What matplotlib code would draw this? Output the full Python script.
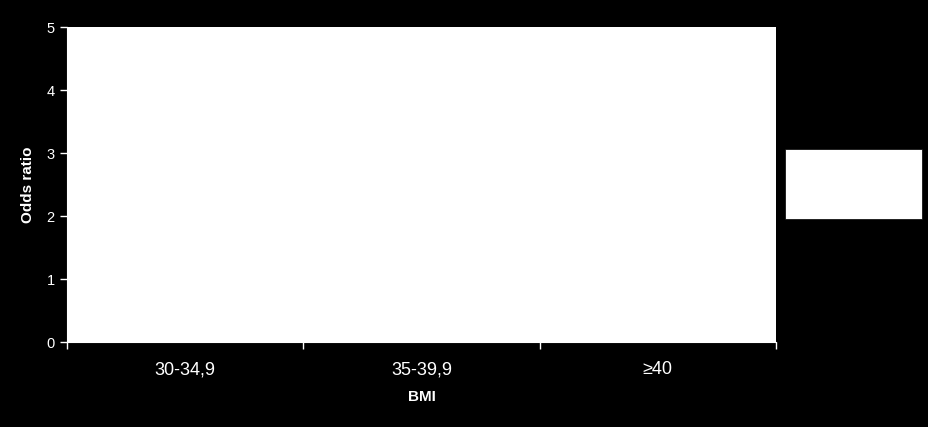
#! /usr/bin/env python3

# Odds ratio by BMI class: empty white plot panel on black background.

import matplotlib
matplotlib.use('Agg')
import matplotlib.pyplot as plt
from matplotlib.patches import Rectangle
import numpy as np

plt.rcParams['font.family'] = ['Liberation Sans', 'DejaVu Sans']

categories = ['30-34,9', '35-39,9', '\u226540']
y_ticks = [0, 1, 2, 3, 4, 5]
y_label = 'Odds ratio'
x_label = 'BMI'


def chart():
    fig = plt.figure(figsize=(9.2801, 4.2701), dpi=100, facecolor='black')
    ax = fig.add_axes([67/928, 85/427, 709/928, 315/427])
    ax.set_facecolor('white')

    n = len(categories)
    ax.set_xlim(0, n)
    ax.set_ylim(y_ticks[0], y_ticks[-1])

    # category boundaries get the tick marks, labels sit in between
    ax.set_xticks(np.arange(n + 1))
    ax.set_xticklabels([])
    ax.set_xticks(np.arange(n) + 0.5, minor=True)
    ax.set_xticklabels(categories, minor=True)
    ax.tick_params(axis='x', which='major', direction='out', length=5,
                   color='white', width=1)
    ax.tick_params(axis='x', which='minor', length=0, pad=14,
                   labelsize=13, labelcolor='white')

    ax.set_yticks(y_ticks)
    ax.tick_params(axis='y', direction='out', length=5, color='white',
                   width=1, labelsize=10.5, labelcolor='white', pad=4)

    for side in ['top', 'right']:
        ax.spines[side].set_visible(False)
    for side in ['left', 'bottom']:
        ax.spines[side].set_color('white')

    ax.set_ylabel(y_label, fontsize=11, fontweight='bold', color='white',
                  labelpad=8)
    ax.set_xlabel(x_label, fontsize=11, fontweight='bold', color='white',
                  labelpad=8)

    # legend box (empty)
    fig.add_artist(Rectangle((785/928, 208/427), 137/928, 70/427,
                             transform=fig.transFigure, facecolor='white',
                             edgecolor='black', lw=0.5))

    plt.savefig('out.png', dpi=100, facecolor='black')


def main():
    chart()


if __name__ == "__main__":
    main()
